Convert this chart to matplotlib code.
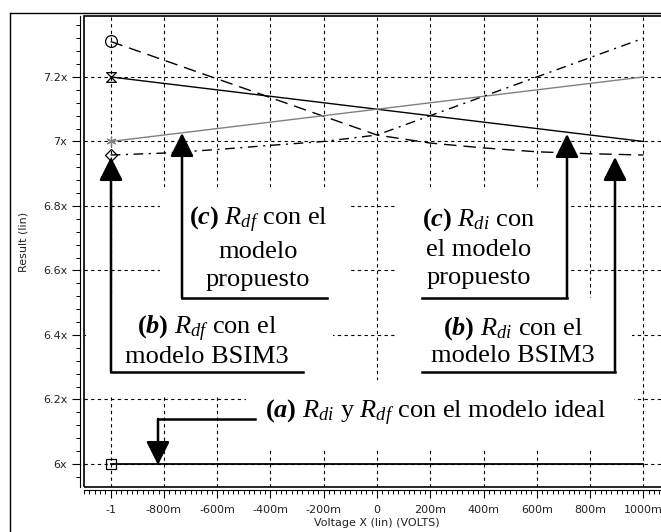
import matplotlib
matplotlib.use('Agg')
import matplotlib.pyplot as plt
from matplotlib.path import Path
from matplotlib.patches import Rectangle
from matplotlib.lines import Line2D
from matplotlib.ticker import MultipleLocator

plt.rcParams['mathtext.fontset'] = 'custom'
plt.rcParams['mathtext.rm'] = 'Liberation Serif'
plt.rcParams['mathtext.it'] = 'Liberation Serif:italic'
plt.rcParams['mathtext.bf'] = 'Liberation Serif:bold'
plt.rcParams['mathtext.bfit'] = 'Liberation Serif:bold:italic'

# data
voltage = [-1, -0.8, -0.6, -0.4, -0.2, 0, 0.2, 0.4, 0.6, 0.8, 1]
rdi_prop = [7.2, 7.18, 7.16, 7.14, 7.12, 7.1, 7.08, 7.06, 7.04, 7.02, 7.0]
rdf_prop = [7.0, 7.02, 7.04, 7.06, 7.08, 7.1, 7.12, 7.14, 7.16, 7.18, 7.2]
rdi_bsim = [7.31, 7.252, 7.194, 7.136, 7.078, 7.02, 6.995, 6.98, 6.968, 6.962, 6.958]
rdf_bsim = [6.958, 6.964, 6.975, 6.988, 7.0, 7.02, 7.08, 7.14, 7.2, 7.26, 7.32]
ideal = [6.0, 6.0, 6.0, 6.0, 6.0, 6.0, 6.0, 6.0, 6.0, 6.0, 6.0]

xticks = [-1, -0.8, -0.6, -0.4, -0.2, 0, 0.2, 0.4, 0.6, 0.8, 1]
xlabels = ['-1', '-800m', '-600m', '-400m', '-200m', '0', '200m', '400m', '600m', '800m', '1000m']
yticks = [6.0, 6.2, 6.4, 6.6, 6.8, 7.0, 7.2]
ylabels = ['6x', '6.2x', '6.4x', '6.6x', '6.8x', '7x', '7.2x']

W, H = 661, 532
fig = plt.figure(figsize=(W / 100, H / 100), dpi=100)
ax = fig.add_axes([84 / W, 45 / H, 586 / W, 471 / H])
x0, x1 = -1.1, 1.1
y0, y1 = 5.9287, 7.389
ax.set_xlim(x0, x1)
ax.set_ylim(y0, y1)


# pixel position -> data position (for placing the annotations)
def px(p):
    return x0 + (p - 84) / 586 * (x1 - x0)


def py(p):
    return y0 + (487 - p) / 471 * (y1 - y0)


hourglass = Path([(-1, 1), (1, 1), (-1, -1), (1, -1), (-1, 1)],
                 [Path.MOVETO, Path.LINETO, Path.LINETO, Path.LINETO, Path.CLOSEPOLY])

ax.plot(voltage, rdi_bsim, color='black', lw=1, linestyle=(0, (9, 5)),
        marker='o', markevery=[0], ms=8.5, mfc='none', mec='black', mew=0.9, zorder=3)
ax.plot(voltage, rdi_prop, color='black', lw=1, marker=hourglass, markevery=[0],
        ms=7, mfc='none', mec='black', mew=0.9, zorder=3)
ax.plot(voltage, rdf_prop, color='#808080', lw=1, marker=(6, 2, 0), markevery=[0],
        ms=7, mec='#808080', mew=0.9, zorder=3)
ax.plot(voltage, rdf_bsim, color='black', lw=1, linestyle=(0, (7, 4, 1.5, 4)),
        marker='D', markevery=[0], ms=6, mfc='none', mec='black', mew=0.9, zorder=3)
ax.plot(voltage, ideal, color='black', lw=1.3, marker='s', markevery=[0],
        ms=7, mfc='none', mec='black', mew=0.9, zorder=3)

# axes, ticks, grid
ax.set_xticks(xticks)
ax.set_xticklabels(xlabels)
ax.set_yticks(yticks)
ax.set_yticklabels(ylabels)
ax.xaxis.set_minor_locator(MultipleLocator(0.02))
ax.yaxis.set_minor_locator(MultipleLocator(0.04))
ax.tick_params(which='major', direction='out', length=6, width=0.8, labelsize=8,
               labelcolor='#222222', pad=3)
ax.tick_params(axis='x', which='major', pad=5)
ax.tick_params(which='minor', direction='out', length=3, width=0.7)
ax.spines['top'].set_visible(False)
ax.spines['right'].set_visible(False)
ax.spines['left'].set_position(('outward', 3))
ax.spines['bottom'].set_position(('outward', 2))
ax.add_patch(Rectangle((0, 0), 1, 1, transform=ax.transAxes, fill=False,
                       lw=1.2, ec='black', clip_on=False, zorder=5))
ax.set_axisbelow(True)
ax.grid(True, which='major', color='black', linestyle=(0, (3, 3)), lw=0.8)

ax.set_xlabel('Voltage X (lin) (VOLTS)', fontsize=8, color='#222222')
ax.xaxis.set_label_coords(0.5, -0.065)
ax.set_ylabel('Result (lin)', fontsize=8, color='#222222')
ax.yaxis.set_label_coords(-0.095, 0.52)

# white areas behind the labels (hide the grid)
for l, t, r, b in [(160, 187, 350, 298), (86, 298, 333, 396), (395, 187, 566, 298),
                   (395, 298, 632, 380), (246, 380, 634, 450)]:
    ax.add_patch(Rectangle((px(l), py(b)), px(r) - px(l), py(t) - py(b),
                           fc='white', ec='none', zorder=1))

serif = 'Liberation Serif'
fs = 19
arrow = dict(arrowstyle='-|>,head_length=1.2,head_width=0.6', mutation_scale=12,
             lw=1.8, color='black', fc='black', shrinkA=0, shrinkB=0)


def bracket(tip, corner_y, end_x):
    ax.annotate('', xy=(px(tip[0]), py(tip[1])), xytext=(px(tip[0]), py(corner_y)),
                arrowprops=arrow, zorder=4)
    ax.plot([px(tip[0]), px(end_x)], [py(corner_y), py(corner_y)], color='black',
            lw=1.8, solid_capstyle='projecting', zorder=4)


bracket((182, 133), 298, 327)
bracket((111, 157), 372, 303)
bracket((567, 134), 298, 422)
bracket((615, 157), 372, 422)
bracket((158, 465), 419, 255)

ax.text(px(258), py(248), r'$\mathbf{(}\mathbfit{c}\mathbf{)}$ $R_{df}$ con el' + '\nmodelo\npropuesto',
        ha='center', va='center', fontsize=fs, family=serif, linespacing=1.35, zorder=4)
ax.text(px(207), py(341), r'$\mathbf{(}\mathbfit{b}\mathbf{)}$ $R_{df}$ con el' + '\nmodelo BSIM3',
        ha='center', va='center', fontsize=fs, family=serif, linespacing=1.15, zorder=4)
ax.text(px(479), py(248), r'$\mathbf{(}\mathbfit{c}\mathbf{)}$ $R_{di}$ con' + '\nel modelo\npropuesto',
        ha='center', va='center', fontsize=fs, family=serif, linespacing=1.35, zorder=4)
ax.text(px(513), py(341), r'$\mathbf{(}\mathbfit{b}\mathbf{)}$ $R_{di}$ con el' + '\nmodelo BSIM3',
        ha='center', va='center', fontsize=fs, family=serif, linespacing=1.15, zorder=4)
ax.text(px(265), py(413), r'$\mathbf{(}\mathbfit{a}\mathbf{)}$ $R_{di}$ y $R_{df}$ con el modelo ideal',
        ha='left', va='center', fontsize=fs, family=serif, zorder=4)

# outer frame
fig.add_artist(Line2D([10 / W, 10 / W], [0, 1 - 13 / H], color='black', lw=1))
fig.add_artist(Line2D([10 / W, 1], [1 - 13 / H, 1 - 13 / H], color='black', lw=1))

fig.savefig('out.png', dpi=100)
